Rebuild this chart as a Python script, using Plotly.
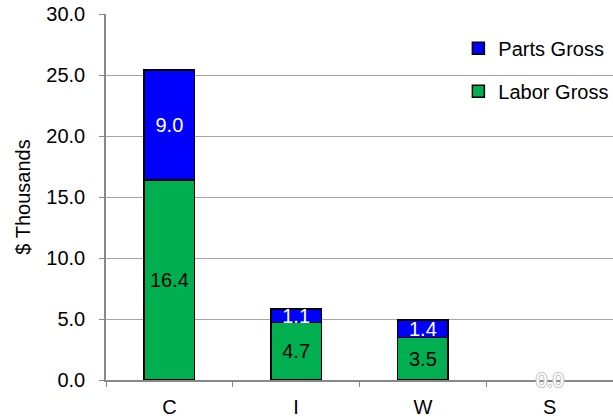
import plotly.graph_objects as go

categories = ["C", "I", "W", "S"]
labor_gross = [16.4, 4.7, 3.5, 0.0]
parts_gross = [9.0, 1.1, 1.4, 0.0]
y_ticks = [0, 5, 10, 15, 20, 25, 30]

FONT = "Liberation Sans, Arial, sans-serif"
FS = 20

def outline_width(vals):
    return [1.5 if v > 0 else 0 for v in vals]

def labels(vals):
    return [f"{v:.1f}" if v > 0 else "" for v in vals]

fig = go.Figure()
fig.add_trace(go.Bar(
    x=categories, y=labor_gross, name="Labor Gross",
    legendgroup="labor", legendrank=2,
    marker=dict(color="#00B050", line=dict(color="black", width=outline_width(labor_gross))),
    text=labels(labor_gross), textposition="inside",
    insidetextanchor="middle", textangle=0, constraintext="none",
    textfont=dict(family=FONT, size=FS, color="black"),
    width=0.4,
))
fig.add_trace(go.Bar(
    x=categories, y=parts_gross, name="Parts Gross",
    legendgroup="parts", legendrank=1,
    marker=dict(color="#0000FF", line=dict(color="black", width=outline_width(parts_gross))),
    text=labels(parts_gross), textposition="inside",
    insidetextanchor="middle", textangle=0, constraintext="none",
    textfont=dict(family=FONT, size=FS, color="white"),
    width=0.4,
))

# zero-valued labels (drawn white with faint outline, as in the original)
outline = "-1px 0 0 #c8c8c8, 1px 0 0 #c8c8c8, 0 -1px 0 #c8c8c8, 0 1px 0 #c8c8c8"
for cat, lv, pv in zip(categories, labor_gross, parts_gross):
    if lv == 0 and pv == 0:
        for v in (lv, pv):
            fig.add_annotation(
                x=cat, y=v, xref="x", yref="y", text=f"{v:.1f}", showarrow=False,
                font=dict(family=FONT, size=FS, color="white", shadow=outline),
            )

fig.update_layout(
    barmode="stack",
    width=613, height=420,
    margin=dict(l=106, r=0, t=14, b=40, autoexpand=False),
    paper_bgcolor="white", plot_bgcolor="white",
    font=dict(family=FONT, size=FS, color="black"),
    showlegend=True,
    legend=dict(
        x=0.695, y=0.96, xanchor="left", yanchor="top",
        traceorder="grouped", tracegroupgap=14,
        font=dict(family=FONT, size=FS, color="black"),
        bgcolor="rgba(0,0,0,0)", itemwidth=30,
    ),
    xaxis=dict(
        range=[-0.5, 3.5], showline=True, linecolor="#888888", linewidth=1.5,
        ticks="outside", tickson="boundaries", ticklen=5, tickcolor="#888888",
        showgrid=False, tickfont=dict(family=FONT, size=FS), automargin=False,
        ticklabelstandoff=8,
    ),
    yaxis=dict(
        range=[0, 30], tickvals=y_ticks, ticktext=[f"{v:.1f}" for v in y_ticks],
        showline=True, linecolor="#888888", linewidth=1.5,
        ticks="outside", ticklen=5, tickcolor="#888888",
        showgrid=True, gridcolor="#a6a6a6", gridwidth=1.2, zeroline=False,
        tickfont=dict(family=FONT, size=FS), automargin=False,
        ticklabelstandoff=10, ticklabeloverflow="allow",
        title=dict(text="$ Thousands", font=dict(family=FONT, size=FS), standoff=10),
    ),
)

# remove the browser's default 8px page margin so the 613x420 figure fills the window
fig.write_html(
    "out.html",
    config={"displayModeBar": False},
    post_script="document.body.style.margin='0';",
)
